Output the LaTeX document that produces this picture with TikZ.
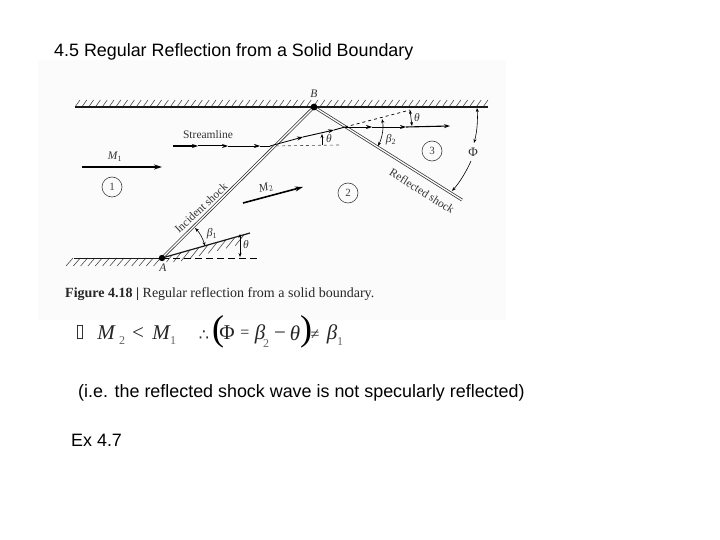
\documentclass[tikz,border=0pt]{standalone}
\usepackage{fontspec}
\setmainfont{Liberation Serif}
\newfontfamily\arialf{Liberation Sans}
\newfontfamily\dejaf{DejaVu Sans}
\usetikzlibrary{arrows.meta,calc}
\tikzset{
 x=1pt,y=-1pt,
 head/.style={-{Stealth[length=8pt,width=5pt]}},
 midhead/.style={-{Stealth[length=6pt,width=4pt]}},
 tinyhead/.style={-{Stealth[length=4pt,width=3pt]}},
 twohead/.style={{Stealth[length=4pt,width=3pt]}-{Stealth[length=4pt,width=3pt]}},
 region/.style={circle,draw=black!75,line width=.6pt,minimum size=20pt,inner sep=0pt,font=\fontsize{11}{11}\selectfont,text=black!75},
 lab/.style={font=\fontsize{11.5}{12}\selectfont,text=black!80,inner sep=0pt},
 slide/.style={font=\arialf\fontsize{17.9}{18}\selectfont,text=black,anchor=west,inner sep=0pt},
 eqn/.style={font=\fontsize{21}{21}\selectfont,text=black!85,inner sep=0pt},
 eqsub/.style={font=\fontsize{12}{12}\selectfont,text=black!60,inner sep=0pt},
 hatch/.style={draw=black!75,line width=.55pt},
 shock/.style={double=white,draw=black!80,line width=.75pt,double distance=1.3pt},
}
\begin{document}
\begin{tikzpicture}
\useasboundingbox (0,0) rectangle (720,540);
\fill[white] (0,0) rectangle (720,540);
\fill[black!1.5] (38,60) rectangle (506,320);
\coordinate (A) at (162,258);
\coordinate (B) at (314,107);
\coordinate (W) at (250,233);
\coordinate (D) at (345,127);
\coordinate (S) at (270,146);
\coordinate (R) at (462,200);
% walls and hatching
\foreach \x in {75,81.8,...,487}{\draw[hatch] (\x,107) -- ++(5,-7);}
\foreach \x in {66,73.3,...,155}{\draw[hatch] (\x,266) -- ++(7,-8);}
\foreach \x in {172,181,...,247}{
  \pgfmathsetmacro{\yw}{258-(\x-162)*25/88}
  \pgfmathsetmacro{\ye}{min(\yw+11,262)}
  \pgfmathsetmacro{\xe}{\x-(\ye-\yw)*.8}
  \draw[hatch] (\x,\yw) -- (\xe,\ye);}
\draw[line width=1.1pt,black!90] (75,107) -- (488,107);
\draw[line width=1pt,black!90] (74,258) -- (A);
\draw[line width=1.2pt,black!90] (A) -- (W);
\draw[dash pattern=on 7pt off 4pt,line width=.9pt] (A) -- (260,258);
% shocks
\draw[shock] (A) -- (B);
\draw[shock] (B) -- (R);
\fill (A) circle (3.2pt);
\fill (B) circle (3.4pt);
% streamline
\draw[line width=1.1pt,midhead] (173,146) -- (198,146);
\draw[line width=1pt,midhead] (198,146) -- (228,146);
\draw[line width=.7pt,midhead] (228,146) -- (260,146);
\draw[line width=.7pt] (260,146) -- (S);
\draw[line width=.8pt,midhead] (S) -- (303,137);
\draw[line width=.9pt,midhead] (303,137) -- (334,130);
\draw[line width=.9pt] (334,130) -- (D);
\draw[line width=.7pt,midhead] (D) -- (372,127);
\draw[line width=.8pt,midhead] (372,127) -- (406,127);
\draw[line width=1.1pt,midhead] (406,127) -- (450,126);
\draw[dashed,line width=.7pt] (D) -- (410,110);
\draw[dashed,black!70,line width=.6pt] (S) -- (340,145);
% flow arrows
\draw[line width=1.6pt,head] (82,167) -- (162,167);
\draw[line width=1.6pt,head] (243,203) -- (303,187);
% angle arcs
\draw[line width=.6pt,tinyhead] (322,145) -- (322,134);
\draw[line width=.6pt,twohead] (410,110) -- (412,126);
\draw[line width=.6pt,twohead] (382,119) .. controls (384,128) and (382,138) .. (378,146);
\draw[line width=.6pt,twohead] (477,108) .. controls (478,120) and (477,132) .. (474,143);
\draw[line width=.6pt,tinyhead] (471,161) .. controls (466,172) and (460,182) .. (452,191);
\draw[line width=.6pt,twohead] (195,228) .. controls (200,233) and (203,239) .. (205,246);
\draw[line width=.6pt,twohead] (240,234) -- (240,257);
% labels
\node[lab] (lb) at (314,94) {\itshape B};
\node[lab] (la) at (163,268) {\itshape A};
\node[lab] (ls) at (208,135) {Streamline};
\node[lab] (m1) at (115,157) {{\itshape M}\textsubscript{1}};
\node[lab,rotate=15] (m2) at (266,188) {{\itshape M}\textsubscript{2}};
\node[region] (r1) at (112,187) {1};
\node[region] (r2) at (348,193) {2};
\node[region] (r3) at (432,151) {3};
\node[lab] (th1) at (329,139) {\itshape θ};
\node[lab] (th2) at (417,118) {\itshape θ};
\node[lab] (th3) at (246,245) {\itshape θ};
\node[lab] (b2) at (391,140) {{\itshape β}\textsubscript{2}};
\node[lab] (b1) at (212,234) {{\itshape β}\textsubscript{1}};
\node[lab,font=\fontsize{13}{13}\selectfont] (ph) at (473,152) {Φ};
\node[lab,rotate=43] (is) at (201,208) {Incident shock};
\node[lab,rotate=-32] (rs) at (422,191) {Reflected shock};
\node[anchor=west,inner sep=0pt,font=\fontsize{14}{14}\selectfont,text=black!85] (cap) at (65,294) {\textbf{Figure 4.18 |} Regular reflection from a solid boundary.};
% slide text
\node[slide] (title) at (54,52) {4.5 Regular Reflection from a Solid Boundary};
\node[slide] (note) at (78,393) {(i.e. the reflected shock wave is not specularly reflected)};
\node[slide] (ex) at (71,440) {Ex 4.7};
\draw[line width=.5pt,black!80] (77.5,325) rectangle (82.5,338);
% equation
\node[eqn] (e1) at (106,333) {\itshape M};
\node[eqsub] (e2) at (122,341) {2};
\node[eqn] (e3) at (138,333) {<};
\node[eqn] (e4) at (161,333) {\itshape M};
\node[eqsub] (e5) at (173,341) {1};
\node[eqn,font=\dejaf\fontsize{16}{16}\selectfont] (e6) at (204,336) {∴};
\node[eqn,font=\fontsize{36}{36}\selectfont,text=black] (e7) at (218,332) {(};
\node[eqn] (e8) at (227,333) {Φ};
\node[eqn,font=\fontsize{16}{16}\selectfont] (e9) at (245,334) {=};
\node[eqn] (e10) at (260,334) {\itshape β};
\node[eqsub] (e11) at (266,344) {2};
\node[eqn] (e12) at (280,336) {−};
\node[eqn] (e13) at (295,333) {\itshape θ};
\node[eqn,font=\fontsize{36}{36}\selectfont,text=black] (e14) at (306,332) {)};
\node[eqn,font=\fontsize{16}{16}\selectfont] (e15) at (315,335) {≠};
\node[eqn] (e16) at (332,334) {\itshape β};
\node[eqsub] (e17) at (340,342) {1};
\end{tikzpicture}
\end{document}
